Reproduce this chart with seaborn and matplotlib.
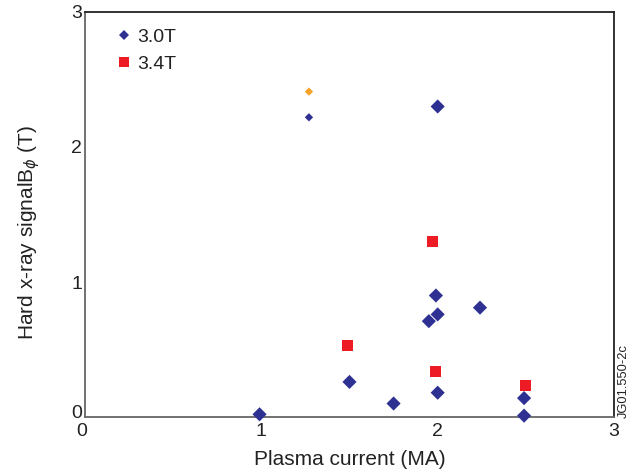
import matplotlib
matplotlib.use("Agg")
import matplotlib.pyplot as plt
import matplotlib.transforms as mtransforms
import seaborn as sns
import pandas as pd
from matplotlib.lines import Line2D

sns.set_theme(style="white")
plt.rcParams["font.family"] = ["Liberation Sans", "DejaVu Sans"]

# Plasma current (MA) and hard x-ray signal for each field
current_30T = [0.99, 1.27, 2.00, 1.99, 2.00, 1.95, 2.24, 1.50, 1.75, 2.00, 2.49, 2.49]
signal_30T = [0.02, 2.22, 2.30, 0.90, 0.76, 0.71, 0.81, 0.26, 0.10, 0.18, 0.14, 0.01]
size_30T = ["big", "small", "big", "big", "big", "big", "big", "big", "big", "big", "big", "big"]

current_34T = [1.97, 1.49, 1.99, 2.50]
signal_34T = [1.30, 0.53, 0.34, 0.23]

current_extra = [1.27]
signal_extra = [2.41]

legend_labels = ["3.0T", "3.4T"]
x_ticks = [0, 0.5, 1, 1.5, 2, 2.5, 3]
x_tick_labels = ["0", "", "1", "", "2", "", "3"]
y_ticks = [0, 1, 2, 3]

blue = "#2e3192"
red = "#ed1c24"
orange = "#f7a229"

df30 = pd.DataFrame({"x": current_30T, "y": signal_30T, "s": size_30T})
df34 = pd.DataFrame({"x": current_34T, "y": signal_34T})
dfex = pd.DataFrame({"x": current_extra, "y": signal_extra})

fig = plt.figure(figsize=(6.38, 4.72), dpi=100)
ax = fig.add_axes([0.1332, 0.1165, 0.8292, 0.8581])

common = dict(edgecolor="none", linewidth=0, ax=ax, zorder=4, clip_on=False, legend=False)
sns.scatterplot(data=df30[df30.s == "big"], x="x", y="y", marker="D", s=52,
                color=blue, **common)
sns.scatterplot(data=df30[df30.s == "small"], x="x", y="y", marker="D", s=18,
                color=blue, **common)
sns.scatterplot(data=df34, x="x", y="y", marker="s", s=62,
                color=red, **common)
sns.scatterplot(data=dfex, x="x", y="y", marker="D", s=18,
                color=orange, **common)

ax.set_xlim(0, 3)
ax.set_ylim(0, 3)
ax.set_xticks(x_ticks)
ax.set_xticklabels(x_tick_labels)
ax.set_yticks(y_ticks)
ax.set_yticklabels([str(v) for v in y_ticks])
ax.tick_params(axis="both", direction="in", length=9, width=1.0, color="#555555",
               labelsize=14, labelcolor="#222222", pad=2)
ax.tick_params(axis="x", pad=4)

# keep the two zero labels at the origin apart
ylab0 = ax.get_yticklabels()[0]
ylab0.set_transform(ylab0.get_transform() +
                    mtransforms.ScaledTranslation(0, 6 / 100, fig.dpi_scale_trans))
xlab0 = ax.get_xticklabels()[0]
xlab0.set_transform(xlab0.get_transform() +
                    mtransforms.ScaledTranslation(-3.5 / 100, 0, fig.dpi_scale_trans))

for side in ["left", "bottom"]:
    ax.spines[side].set_color("#666666")
    ax.spines[side].set_linewidth(1.3)
for side in ["top", "right"]:
    ax.spines[side].set_color("#222222")
    ax.spines[side].set_linewidth(1.3)

ax.set_xlabel("Plasma current (MA)", fontsize=15, color="#222222")
ax.set_ylabel(r"Hard x-ray signalB$_\phi$ (T)", fontsize=15, color="#222222")
ax.xaxis.set_label_coords(0.5, -0.104)
ax.xaxis.label.set_va("center")
ax.yaxis.set_label_coords(-0.106, 0.457)
ax.yaxis.label.set_va("center")

handles = [
    Line2D([], [], marker="D", linestyle="none", color=blue, markersize=5.2, markeredgewidth=0),
    Line2D([], [], marker="s", linestyle="none", color=red, markersize=6.5, markeredgewidth=0),
]
leg = ax.legend(handles, legend_labels, loc="upper left", frameon=False,
                fontsize=14, handlelength=1.0, handletextpad=0.17, borderpad=0,
                borderaxespad=0, labelspacing=0.49, bbox_to_anchor=(0.0554, 0.960))
for t in leg.get_texts():
    t.set_color("#222222")

fig.text(624 / 638, 1 - 381 / 472, "JG01.550-2c", rotation=90, fontsize=9.3,
         color="#222222", ha="center", va="center")

fig.savefig("out.png", dpi=100)
